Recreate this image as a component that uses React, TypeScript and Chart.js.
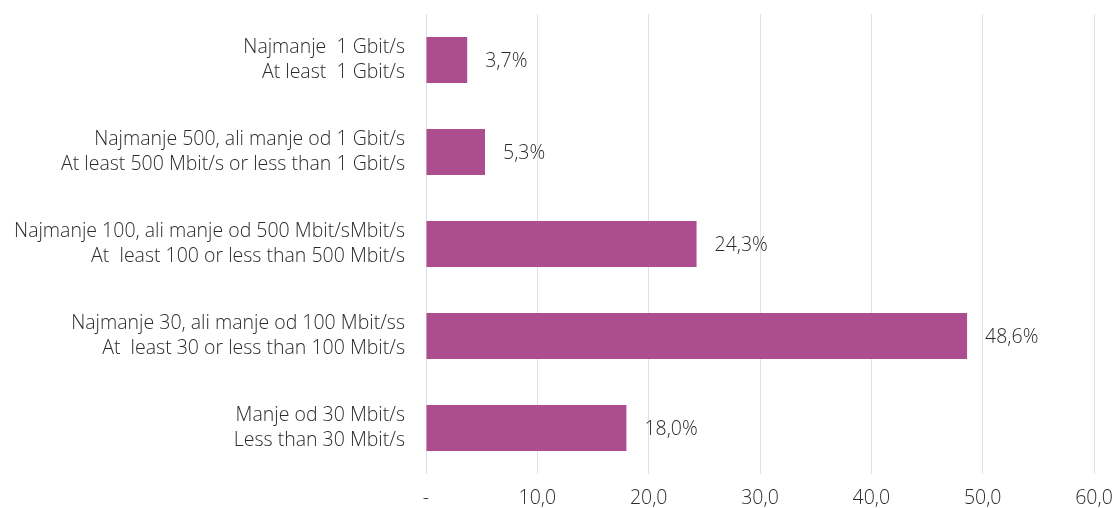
import React, { useEffect, useRef } from "react";
import { Chart, registerables } from "chart.js";

Chart.register(...registerables);

const categories: string[][] = [
  ["Najmanje  1 Gbit/s", "At least  1 Gbit/s"],
  ["Najmanje 500, ali manje od 1 Gbit/s", "At least 500 Mbit/s or less than 1 Gbit/s"],
  ["Najmanje 100, ali manje od 500 Mbit/sMbit/s", "At  least 100 or less than 500 Mbit/s"],
  ["Najmanje 30, ali manje od 100 Mbit/ss", "At  least 30 or less than 100 Mbit/s"],
  ["Manje od 30 Mbit/s", "Less than 30 Mbit/s"],
];
const values: number[] = [3.7, 5.3, 24.3, 48.6, 18.0];
const valueLabels: string[] = ["3,7%", "5,3%", "24,3%", "48,6%", "18,0%"];
const xTickLabels: string[] = ["-", "10,0", "20,0", "30,0", "40,0", "50,0", "60,0"];

const FONT = "'Open Sans', 'Noto Sans', sans-serif";
const TEXT = "#2b2b2b";
const FSIZE = 19.5;

const valueLabelPlugin = {
  id: "valueLabels",
  afterDatasetsDraw(chart: any) {
    const ctx = chart.ctx;
    const meta = chart.getDatasetMeta(0);
    ctx.save();
    ctx.font = `300 ${FSIZE}px ${FONT}`;
    ctx.fillStyle = TEXT;
    ctx.textAlign = "left";
    ctx.textBaseline = "middle";
    meta.data.forEach((bar: any, i: number) => {
      ctx.fillText(valueLabels[i], bar.x + 18, bar.y + 1);
    });
    ctx.restore();
  },
};

export default function App() {
  const ref = useRef<HTMLCanvasElement | null>(null);
  useEffect(() => {
    if (!ref.current) return;
    const chart = new Chart(ref.current, {
      type: "bar",
      data: {
        labels: categories,
        datasets: [
          {
            data: values,
            backgroundColor: "#ad4c8e",
            borderWidth: 0,
            barPercentage: 0.5,
            categoryPercentage: 1,
          },
        ],
      },
      options: {
        indexAxis: "y",
        animation: false,
        responsive: false,
        maintainAspectRatio: false,
        layout: { padding: { top: 14, right: 23, left: 0, bottom: 0 } },
        plugins: {
          legend: { display: false },
          tooltip: { enabled: false },
        },
        scales: {
          x: {
            min: 0,
            max: 60,
            afterFit: (scale: any) => {
              scale.paddingLeft = 0;
              scale.paddingRight = 0;
              scale.height = 34;
            },
            ticks: {
              stepSize: 10,
              padding: 13,
              color: TEXT,
              font: { family: FONT, size: FSIZE, weight: 300 as any },
              callback: (_v: any, i: number) => xTickLabels[i],
              maxRotation: 0,
            },
            grid: { color: "#dde1e6", lineWidth: 1, drawTicks: false },
            border: { display: false },
          },
          y: {
            afterFit: (scale: any) => {
              scale.width = 426;
              scale.paddingTop = 0;
              scale.paddingBottom = 0;
            },
            ticks: {
              padding: 21,
              color: TEXT,
              font: { family: FONT, size: FSIZE, weight: 300 as any, lineHeight: 1.28 },
            },
            grid: { display: false, drawTicks: false },
            border: { display: false },
          },
        },
      },
      plugins: [valueLabelPlugin],
    });
    return () => chart.destroy();
  }, []);
  return (
    <div style={{ position: "fixed", left: 0, top: 0, width: 1117, height: 508, background: "#fff" }}>
      <canvas ref={ref} width={1117} height={508} style={{ display: "block" }} />
    </div>
  );
}
